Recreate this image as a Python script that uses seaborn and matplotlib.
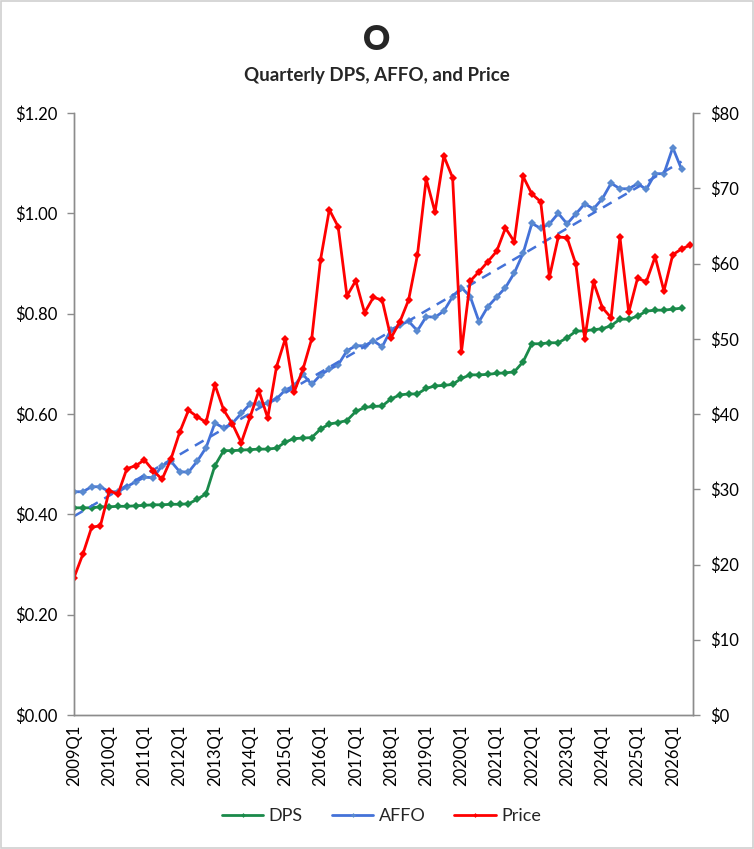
import numpy as np
import matplotlib
matplotlib.use("Agg")
import matplotlib.pyplot as plt
from matplotlib.patches import Rectangle
import seaborn as sns

sns.set_style("white")
plt.rcParams['font.family'] = ['Lato', 'DejaVu Sans']

# quarterly data, 2009Q1 onwards
dps = [0.413, 0.413, 0.413, 0.415, 0.415, 0.416, 0.416, 0.417, 0.418, 0.419,
       0.419, 0.420, 0.420, 0.421, 0.430, 0.441, 0.497, 0.527, 0.527, 0.528,
       0.529, 0.530, 0.530, 0.532, 0.544, 0.551, 0.552, 0.553, 0.570, 0.580,
       0.583, 0.587, 0.605, 0.613, 0.615, 0.616, 0.630, 0.638, 0.640, 0.640,
       0.651, 0.656, 0.657, 0.659, 0.671, 0.678, 0.678, 0.679, 0.681, 0.682,
       0.684, 0.704, 0.740, 0.740, 0.742, 0.742, 0.752, 0.765, 0.766, 0.768,
       0.770, 0.776, 0.789, 0.789, 0.795, 0.805, 0.807, 0.807, 0.809, 0.811]

affo = [0.445, 0.445, 0.455, 0.455, 0.445, 0.445, 0.455, 0.465, 0.474, 0.473,
        0.497, 0.506, 0.485, 0.484, 0.506, 0.533, 0.582, 0.572, 0.582, 0.601,
        0.620, 0.620, 0.621, 0.630, 0.648, 0.656, 0.679, 0.659, 0.678, 0.689,
        0.698, 0.726, 0.736, 0.736, 0.746, 0.734, 0.768, 0.777, 0.785, 0.766,
        0.794, 0.793, 0.805, 0.834, 0.852, 0.834, 0.784, 0.814, 0.833, 0.852,
        0.881, 0.920, 0.980, 0.970, 0.979, 1.000, 0.979, 0.999, 1.019, 1.009,
        1.029, 1.060, 1.049, 1.049, 1.059, 1.048, 1.079, 1.079, 1.131, 1.088]

price = [18.25, 21.35, 24.94, 25.16, 29.77, 29.37, 32.73, 33.13, 33.89, 32.47,
         31.32, 33.98, 37.57, 40.49, 39.64, 38.89, 43.89, 40.53, 38.67, 36.19,
         39.60, 43.10, 39.47, 46.29, 50.01, 42.92, 45.94, 50.00, 60.51, 67.15,
         64.89, 55.68, 57.72, 53.46, 55.50, 55.15, 50.10, 52.23, 55.15, 61.09,
         71.23, 66.84, 74.29, 71.40, 48.24, 57.67, 58.91, 60.24, 61.62, 64.72,
         62.90, 71.58, 69.24, 68.22, 58.21, 63.52, 63.43, 59.89, 49.97, 57.54,
         54.13, 52.80, 63.52, 53.51, 58.03, 57.58, 60.90, 56.35, 61.17, 61.93,
         62.46]

quarters = [f"{y}Q{q}" for y in range(2009, 2027) for q in range(1, 5)][:len(price)]

c_dps = '#1a8a4a'
c_affo = '#4472d8'
c_price = '#ff0000'
axis_gray = '#8c8c8c'

fig = plt.figure(figsize=(7.54, 8.49), dpi=100)
ax = fig.add_axes([74 / 754, 1 - 715 / 849, (693 - 74) / 754, (715 - 113) / 849])
ax2 = ax.twinx()

x_dps = np.arange(len(dps))
x_affo = np.arange(len(affo))
x_price = np.arange(len(price))

sns.lineplot(x=x_dps, y=dps, ax=ax, color=c_dps, linewidth=2, marker='D',
             markersize=4, markeredgewidth=0, label='DPS', legend=False)
sns.lineplot(x=x_affo, y=affo, ax=ax, color=c_affo, linewidth=2, marker='D',
             markersize=4, markeredgewidth=0, markerfacecolor='#5a8ad0',
             label='AFFO', legend=False)

# linear trend of AFFO
slope, icpt = np.polyfit(x_affo, affo, 1)
ax.plot(x_affo, slope * x_affo + icpt, color=c_affo, linestyle=(0, (4, 3)), linewidth=1.8)

sns.lineplot(x=x_price, y=price, ax=ax2, color=c_price, linewidth=2, marker='D',
             markersize=4, markeredgewidth=0, label='Price', legend=False)

ax.set_xlim(0, len(price) - 0.7)
ax.set_ylim(0, 1.2)
ax2.set_ylim(0, 80)
ax.set_yticks(np.arange(0, 1.21, 0.2))
ax.set_yticklabels([f"${v:.2f}" for v in np.arange(0, 1.21, 0.2)])
ax2.set_yticks(np.arange(0, 81, 10))
ax2.set_yticklabels([f"${v:.0f}" for v in np.arange(0, 81, 10)])

ax.set_xticks(x_price)
ax.set_xticklabels([q if i % 4 == 0 else '' for i, q in enumerate(quarters)], rotation=90)

for a in (ax, ax2):
    a.set_xlabel('')
    a.set_ylabel('')
    a.grid(False)
    for s in a.spines.values():
        s.set_color(axis_gray)
        s.set_linewidth(1)
    a.spines['top'].set_visible(False)
    a.tick_params(direction='out', length=5, color=axis_gray, labelsize=12,
                  labelcolor='black', width=1)

ax.tick_params(axis='x', pad=2)
ax.tick_params(axis='y', pad=7)
ax2.tick_params(axis='y', pad=7)

fig.text(0.5, 1 - 40 / 849, "O", ha='center', va='center', fontsize=24, fontweight='heavy')
fig.text(0.5, 1 - 75 / 849, "Quarterly DPS, AFFO, and Price", ha='center', va='center',
         fontsize=13.5, fontweight='bold')

h1, l1 = ax.get_legend_handles_labels()
h2, l2 = ax2.get_legend_handles_labels()
fig.legend(h1[:2] + h2, ['DPS', 'AFFO', 'Price'], loc='center',
           bbox_to_anchor=(0.506, 1 - 816 / 849), ncol=3, frameon=False,
           fontsize=13, handlelength=2.3, columnspacing=1.6, handletextpad=0.3,
           markerscale=0.6)

fig.patches.append(Rectangle((0.001, 0.001), 0.998, 0.998, transform=fig.transFigure,
                             fill=False, edgecolor='#d0d0d0', linewidth=1.2))

fig.savefig("out.png", dpi=100)
